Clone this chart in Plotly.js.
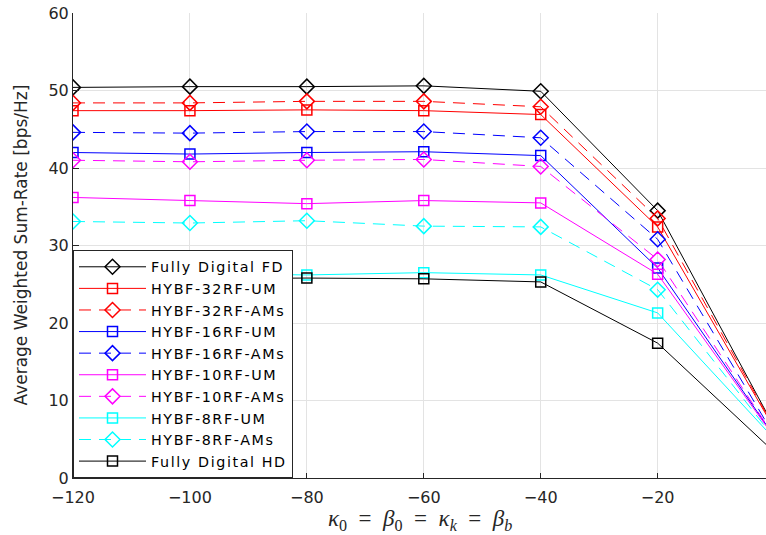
<!DOCTYPE html>
<html>
<head>
<meta charset="utf-8">
<script src="https://cdn.plot.ly/plotly-3.0.1.min.js"></script>
<style>
html,body{margin:0;padding:0;background:#fff;overflow:hidden}
.legendtext{letter-spacing:1.6px}
</style>
</head>
<body>
<div id="chart" style="width:766px;height:535px"></div>
<script>
const xVals = [-120, -100, -80, -60, -40, -20, 0];
const seriesNames = ["Fully Digital FD", "HYBF-32RF-UM", "HYBF-32RF-AMs", "HYBF-16RF-UM", "HYBF-16RF-AMs",
  "HYBF-10RF-UM", "HYBF-10RF-AMs", "HYBF-8RF-UM", "HYBF-8RF-AMs", "Fully Digital HD"];
const fullyDigitalFD = [50.4, 50.5, 50.5, 50.6, 49.9, 34.5, 6.5];
const hybf32UM      = [47.4, 47.4, 47.5, 47.4, 46.9, 32.4, 6.3];
const hybf32AMs     = [48.4, 48.4, 48.6, 48.6, 47.9, 33.5, 6.4];
const hybf16UM      = [42.0, 41.8, 42.0, 42.1, 41.6, 27.1, 5.3];
const hybf16AMs     = [44.6, 44.5, 44.7, 44.7, 43.9, 30.8, 5.4];
const hybf10UM      = [36.2, 35.8, 35.4, 35.8, 35.5, 26.3, 5.2];
const hybf10AMs     = [41.0, 40.8, 41.0, 41.1, 40.2, 28.2, 5.3];
const hybf8UM       = [26.6, 26.4, 26.2, 26.5, 26.2, 21.3, 5.0];
const hybf8AMs      = [33.1, 32.9, 33.2, 32.5, 32.4, 24.3, 5.1];
const fullyDigitalHD = [25.5, 25.7, 25.8, 25.7, 25.3, 17.4, 3.3];

const seriesData = [fullyDigitalFD, hybf32UM, hybf32AMs, hybf16UM, hybf16AMs, hybf10UM, hybf10AMs, hybf8UM, hybf8AMs, fullyDigitalHD];
const colors = ["#000000", "#ff0000", "#ff0000", "#0000ff", "#0000ff", "#ff00ff", "#ff00ff", "#00ffff", "#00ffff", "#000000"];
const symbols = ["diamond-open", "square-open", "diamond-open", "square-open", "diamond-open", "square-open", "diamond-open", "square-open", "diamond-open", "square-open"];
const dashes = ["solid", "solid", "12px,8px", "solid", "12px,8px", "solid", "12px,8px", "solid", "12px,8px", "solid"];

const traces = seriesData.map((y, i) => ({
  x: xVals, y: y, name: seriesNames[i], type: "scatter", mode: "lines+markers",
  line: {color: colors[i], width: 1, dash: dashes[i]},
  marker: {symbol: symbols[i], size: symbols[i].startsWith("diamond") ? 11.5 : 10,
           color: colors[i], line: {color: colors[i], width: 1.5}}
}));

const axisFont = {family: "DejaVu Sans, Arial, sans-serif", size: 16, color: "#262626"};
const plotW = 766 - 73;
const layout = {
  width: 766, height: 535,
  margin: {l: 73, r: 0, t: 13, b: 57},
  paper_bgcolor: "#ffffff", plot_bgcolor: "#ffffff",
  showlegend: true,
  xaxis: {
    range: [-120, -1.47], tickvals: [-120, -100, -80, -60, -40, -20, 0],
    ticks: "inside", ticklen: 5, tickcolor: "#262626", tickfont: axisFont, ticklabelstandoff: 5,
    showgrid: true, gridcolor: "#e3e3e3", gridwidth: 1, zeroline: false,
    showline: true, linecolor: "#262626", linewidth: 1, mirror: false
  },
  yaxis: {
    range: [0, 60], tickvals: [0, 10, 20, 30, 40, 50, 60],
    ticks: "inside", ticklen: 6, tickcolor: "#262626", tickfont: axisFont,
    showgrid: true, gridcolor: "#e3e3e3", gridwidth: 1, zeroline: false,
    showline: true, linecolor: "#262626", linewidth: 1, mirror: false
  },
  legend: {
    x: 0, y: 0, xanchor: "left", yanchor: "bottom",
    bgcolor: "#ffffff", bordercolor: "#262626", borderwidth: 1,
    font: {family: "DejaVu Sans, Arial, sans-serif", size: 14.3, color: "#000000"},
    itemwidth: 67, tracegroupgap: 0
  },
  annotations: [
    {xref: "paper", yref: "paper", x: -(73 - 20) / plotW, y: 0.5, xanchor: "center", yanchor: "middle",
     textangle: -90, showarrow: false, text: "Average Weighted Sum-Rate [bps/Hz]",
     font: {family: "DejaVu Sans, Arial, sans-serif", size: 17, color: "#262626"}},
    {xref: "paper", yref: "paper", x: (420 - 73) / plotW, y: -(520 - 478) / 465, xanchor: "center", yanchor: "middle",
     showarrow: false,
     text: "<i>κ</i><sub>0</sub>  =  <i>β</i><sub>0</sub>  =  <i>κ</i><sub><i>k</i></sub>  =  <i>β</i><sub><i>b</i></sub>",
     font: {family: "Liberation Serif, DejaVu Serif, serif", size: 23, color: "#262626"}}
  ]
};

Plotly.newPlot("chart", traces, layout, {displayModeBar: false, staticPlot: true});
</script>
</body>
</html>
